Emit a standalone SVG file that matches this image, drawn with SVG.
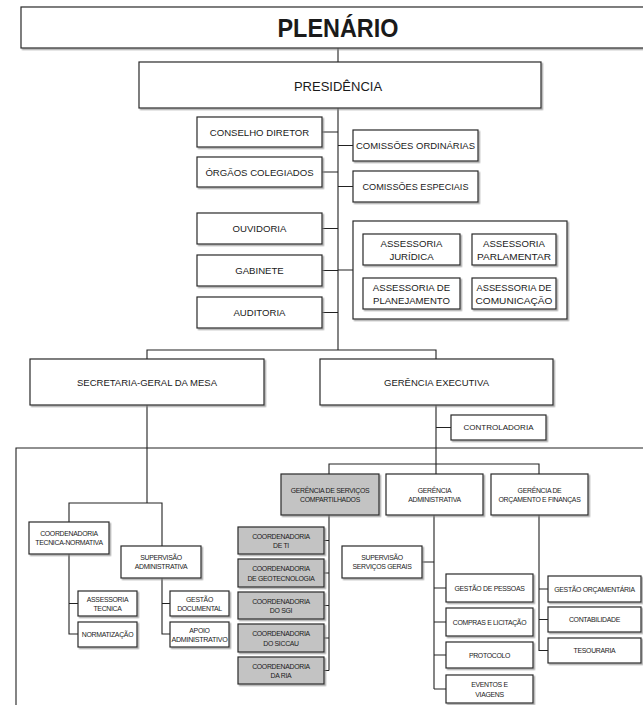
<svg xmlns="http://www.w3.org/2000/svg" width="643" height="705" viewBox="0 0 643 705">
<defs>
<filter id="sh" x="-10%" y="-10%" width="130%" height="140%"><feDropShadow dx="1.5" dy="1.5" stdDeviation="0.6" flood-color="#888" flood-opacity="0.7"/></filter>
</defs>
<style>
.b{fill:#fff;stroke:#2a2a2a;stroke-width:1.2;filter:url(#sh)}
.g{fill:#c3c3c3;stroke:#2a2a2a;stroke-width:1.2;filter:url(#sh)}
.c{fill:none;stroke:#222;stroke-width:1.1}
text{font-family:"Liberation Sans",Arial,sans-serif;fill:#1a1a1a;text-anchor:middle;dominant-baseline:central}
.t{font-size:9.6px}
.s{font-size:6.9px;letter-spacing:-0.3px}
</style>
<rect width="643" height="705" fill="#fff"/>
<g id="connectors">
<path class="c" d="M338,48V62 M338,108V350 M322,132H338 M322,172H338 M322,228.5H338 M322,270.5H338 M322,312.5H338 M338,145.5H353 M338,186.5H353 M338,270H353"/>
<path class="c" d="M147,359V350H436V359 M147,405V503 M69,522V503H162V546 M69,554V634H78 M69,603.5H78 M162,578V634H170 M162,603.5H170"/>
<path class="c" d="M436,405V474 M436,427.5H451 M329,474V464H539V474 M329,515V670.5 M324,540.5H329 M324,573H329 M324,605.5H329 M324,638H329 M324,670.5H329 M434,515V689 M422,562H434 M434,588H446 M434,622H446 M434,655H446 M434,689H446 M539,515V650.5H548 M539,589H548 M539,619.5H548"/>
<path class="c" d="M16,705V448H643"/>
</g>
<g id="plenario"><rect class="b" x="21" y="7" width="640" height="41"/><text x="338" y="28" font-size="25" font-weight="bold" textLength="121" lengthAdjust="spacingAndGlyphs">PLENÁRIO</text></g>
<g id="presidencia"><rect class="b" x="139" y="62" width="402" height="46"/><text x="338" y="86" font-size="13">PRESIDÊNCIA</text></g>
<g id="conselho-diretor"><rect class="b" x="197" y="117" width="125" height="30"/><text class="t" x="259.5" y="132">CONSELHO DIRETOR</text></g>
<g id="orgaos-colegiados"><rect class="b" x="197" y="157" width="125" height="30"/><text class="t" x="259.5" y="172">ÓRGÃOS COLEGIADOS</text></g>
<g id="ouvidoria"><rect class="b" x="197" y="213" width="125" height="31"/><text class="t" x="259.5" y="228.5">OUVIDORIA</text></g>
<g id="gabinete"><rect class="b" x="197" y="255" width="125" height="31"/><text class="t" x="259.5" y="270.5">GABINETE</text></g>
<g id="auditoria"><rect class="b" x="197" y="297" width="125" height="31"/><text class="t" x="259.5" y="312.5">AUDITORIA</text></g>
<g id="comissoes-ordinarias"><rect class="b" x="353" y="130" width="125" height="31"/><text class="t" x="415.5" y="145.5" textLength="119" lengthAdjust="spacingAndGlyphs">COMISSÕES ORDINÁRIAS</text></g>
<g id="comissoes-especiais"><rect class="b" x="353" y="171" width="125" height="31"/><text class="t" x="415.5" y="186.5" textLength="106" lengthAdjust="spacingAndGlyphs">COMISSÕES ESPECIAIS</text></g>
<g id="assessorias"><rect class="b" x="353" y="221" width="214" height="98"/></g>
<g id="assessoria-juridica"><rect class="b" x="363" y="234" width="97" height="31"/><text class="t" x="411.5" y="243">ASSESSORIA</text><text class="t" x="411.5" y="256">JURÍDICA</text></g>
<g id="assessoria-parlamentar"><rect class="b" x="472" y="234" width="84" height="31"/><text class="t" x="514" y="243">ASSESSORIA</text><text class="t" x="514" y="256" textLength="74" lengthAdjust="spacingAndGlyphs">PARLAMENTAR</text></g>
<g id="assessoria-planejamento"><rect class="b" x="363" y="278" width="97" height="31"/><text class="t" x="411.5" y="287">ASSESSORIA DE</text><text class="t" x="411.5" y="300" textLength="77" lengthAdjust="spacingAndGlyphs">PLANEJAMENTO</text></g>
<g id="assessoria-comunicacao"><rect class="b" x="472" y="278" width="84" height="31"/><text class="t" x="514" y="287" textLength="75" lengthAdjust="spacingAndGlyphs">ASSESSORIA DE</text><text class="t" x="514" y="300" textLength="77" lengthAdjust="spacingAndGlyphs">COMUNICAÇÃO</text></g>
<g id="secretaria-geral"><rect class="b" x="30" y="359" width="234" height="46"/><text class="t" x="147" y="382" textLength="140" lengthAdjust="spacingAndGlyphs">SECRETARIA-GERAL DA MESA</text></g>
<g id="gerencia-executiva"><rect class="b" x="320" y="359" width="233" height="46"/><text class="t" x="436.5" y="382" textLength="105" lengthAdjust="spacingAndGlyphs">GERÊNCIA EXECUTIVA</text></g>
<g id="controladoria"><rect class="b" x="451" y="415" width="95" height="25"/><text x="498.5" y="427.5" font-size="7.5" textLength="70" lengthAdjust="spacingAndGlyphs">CONTROLADORIA</text></g>
<g id="coord-tecnica-normativa"><rect class="b" x="29" y="522" width="80" height="32"/><text class="s" x="69" y="533">COORDENADORIA</text><text class="s" x="69" y="542.5">TECNICA-NORMATIVA</text></g>
<g id="supervisao-administrativa"><rect class="b" x="121" y="546" width="80" height="32"/><text class="s" x="161" y="557">SUPERVISÃO</text><text class="s" x="161" y="566.5">ADMINISTRATIVA</text></g>
<g id="assessoria-tecnica"><rect class="b" x="78" y="591" width="59" height="25"/><text class="s" x="107.5" y="599">ASSESSORIA</text><text class="s" x="107.5" y="608.5">TECNICA</text></g>
<g id="normatizacao"><rect class="b" x="78" y="622" width="59" height="25"/><text class="s" x="107.5" y="634.5">NORMATIZAÇÃO</text></g>
<g id="gestao-documental"><rect class="b" x="170" y="591" width="59" height="25"/><text class="s" x="199.5" y="599">GESTÃO</text><text class="s" x="199.5" y="608.5">DOCUMENTAL</text></g>
<g id="apoio-administrativo"><rect class="b" x="170" y="622" width="59" height="25"/><text class="s" x="199.5" y="630">APOIO</text><text class="s" x="199.5" y="639.5" textLength="56" lengthAdjust="spacingAndGlyphs">ADMINISTRATIVO</text></g>
<g id="gerencia-servicos-compartilhados"><rect class="g" x="281" y="474" width="98" height="41"/><text class="s" x="330" y="490">GERÊNCIA DE SERVIÇOS</text><text class="s" x="330" y="499.5">COMPARTILHADOS</text></g>
<g id="gerencia-administrativa"><rect class="b" x="386" y="474" width="97" height="41"/><text class="s" x="434.5" y="490">GERÊNCIA</text><text class="s" x="434.5" y="499.5">ADMINISTRATIVA</text></g>
<g id="gerencia-orcamento-financas"><rect class="b" x="491" y="474" width="97" height="41"/><text class="s" x="539.5" y="490">GERÊNCIA DE</text><text class="s" x="539.5" y="499.5">ORÇAMENTO E FINANÇAS</text></g>
<g id="coord-ti"><rect class="g" x="238" y="527" width="86" height="27"/><text class="s" x="281" y="536">COORDENADORIA</text><text class="s" x="281" y="545.5">DE TI</text></g>
<g id="coord-geotecnologia"><rect class="g" x="238" y="559" width="86" height="28"/><text class="s" x="281" y="568.5">COORDENADORIA</text><text class="s" x="281" y="578">DE GEOTECNOLOGIA</text></g>
<g id="coord-sgi"><rect class="g" x="238" y="592" width="86" height="27"/><text class="s" x="281" y="601">COORDENADORIA</text><text class="s" x="281" y="610.5">DO SGI</text></g>
<g id="coord-siccau"><rect class="g" x="238" y="624" width="86" height="28"/><text class="s" x="281" y="633.5">COORDENADORIA</text><text class="s" x="281" y="643">DO SICCAU</text></g>
<g id="coord-ria"><rect class="g" x="238" y="657" width="86" height="27"/><text class="s" x="281" y="666">COORDENADORIA</text><text class="s" x="281" y="675.5">DA RIA</text></g>
<g id="supervisao-servicos-gerais"><rect class="b" x="342" y="546" width="80" height="32"/><text class="s" x="382" y="557">SUPERVISÃO</text><text class="s" x="382" y="566.5">SERVIÇOS GERAIS</text></g>
<g id="gestao-pessoas"><rect class="b" x="446" y="574" width="87" height="28"/><text class="s" x="489.5" y="588">GESTÃO DE PESSOAS</text></g>
<g id="compras-licitacao"><rect class="b" x="446" y="608" width="87" height="28"/><text class="s" x="489.5" y="622">COMPRAS E LICITAÇÃO</text></g>
<g id="protocolo"><rect class="b" x="446" y="642" width="87" height="26"/><text class="s" x="489.5" y="655">PROTOCOLO</text></g>
<g id="eventos-viagens"><rect class="b" x="446" y="675" width="87" height="28"/><text class="s" x="489.5" y="684.5">EVENTOS E</text><text class="s" x="489.5" y="694">VIAGENS</text></g>
<g id="gestao-orcamentaria"><rect class="b" x="548" y="576" width="93" height="26"/><text class="s" x="594.5" y="589">GESTÃO ORÇAMENTÁRIA</text></g>
<g id="contabilidade"><rect class="b" x="548" y="607" width="93" height="25"/><text class="s" x="594.5" y="619.5">CONTABILIDADE</text></g>
<g id="tesouraria"><rect class="b" x="548" y="638" width="93" height="25"/><text class="s" x="594.5" y="650.5">TESOURARIA</text></g>
</svg>
